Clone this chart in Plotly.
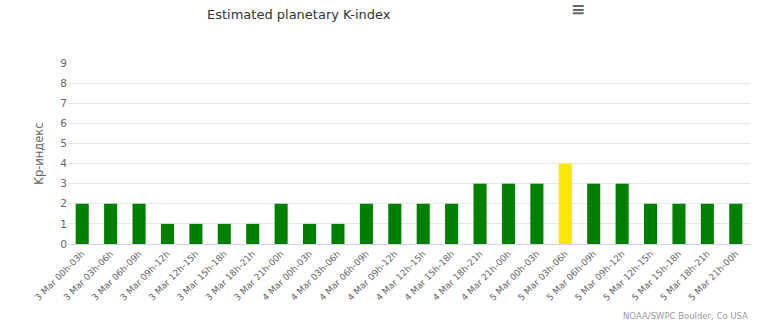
import plotly.graph_objects as go

categories = ["3 Mar 00h-03h", "3 Mar 03h-06h", "3 Mar 06h-09h", "3 Mar 09h-12h",
              "3 Mar 12h-15h", "3 Mar 15h-18h", "3 Mar 18h-21h", "3 Mar 21h-00h",
              "4 Mar 00h-03h", "4 Mar 03h-06h", "4 Mar 06h-09h", "4 Mar 09h-12h",
              "4 Mar 12h-15h", "4 Mar 15h-18h", "4 Mar 18h-21h", "4 Mar 21h-00h",
              "5 Mar 00h-03h", "5 Mar 03h-06h", "5 Mar 06h-09h", "5 Mar 09h-12h",
              "5 Mar 12h-15h", "5 Mar 15h-18h", "5 Mar 18h-21h", "5 Mar 21h-00h"]
kp_values = [2, 2, 2, 1, 1, 1, 1, 2, 1, 1, 2, 2, 2, 2, 3, 3, 3, 4, 3, 3, 2, 2, 2, 2]
y_ticks = [0, 1, 2, 3, 4, 5, 6, 7, 8, 9]

colors = ["#FFE800" if v == 4 else "#008000" for v in kp_values]

fig = go.Figure(go.Bar(
    x=categories, y=kp_values, marker=dict(color=colors, line=dict(width=0)),
    hoverinfo="x+y",
))

fig.update_layout(
    width=766, height=326,
    margin=dict(l=68, r=16, t=63, b=82),
    paper_bgcolor="white", plot_bgcolor="white",
    bargap=0.54,
    showlegend=False,
    font=dict(family="DejaVu Sans", color="#666666", size=10),
    title=dict(text="Estimated planetary K-index", x=0.39, xanchor="center",
               y=0.955, yanchor="middle",
               font=dict(family="DejaVu Sans", size=13, color="#333333")),
    xaxis=dict(tickangle=-45, tickfont=dict(size=9, color="#666666"),
               showline=True, linecolor="#ccd6eb", linewidth=1,
               showgrid=False, ticks="", automargin=False),
    yaxis=dict(range=[0, 9], tickvals=y_ticks, showgrid=True, gridcolor="#e6e6e6",
               zeroline=False, showline=False, ticks="",
               tickfont=dict(size=10.5, color="#666666"),
               title=dict(text="Kp-индекс", standoff=14,
                          font=dict(size=11.5, color="#666666")),
               automargin=False),
    annotations=[
        dict(text="NOAA/SWPC Boulder, Co USA", xref="paper", yref="paper",
             x=1.0, y=-0.398, xanchor="right", yanchor="middle", showarrow=False,
             font=dict(size=8.5, color="#999999")),
        dict(text="<b>≡</b>", xref="paper", yref="paper", x=0.748, y=1.298,
             xanchor="center", yanchor="middle", showarrow=False,
             font=dict(size=17, color="#666666")),
    ],
)

fig.write_html("out.html")
